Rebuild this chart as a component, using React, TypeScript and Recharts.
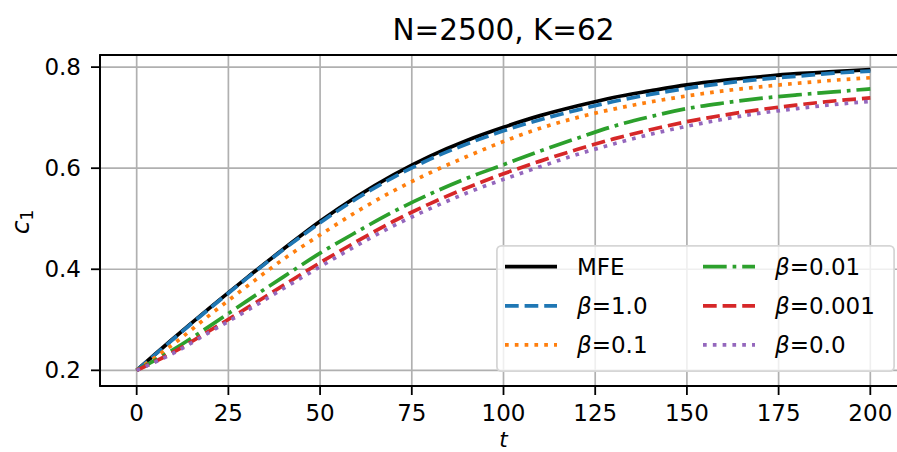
import React from "react";
import { LineChart, Line, XAxis, YAxis, CartesianGrid, ReferenceArea, Legend } from "recharts";

const tValues = [0, 10, 20, 30, 40, 50, 60, 70, 80, 90, 100, 110, 120, 130, 140, 150, 160, 170, 180, 190, 200];
const mfe = [0.200, 0.263, 0.324, 0.383, 0.440, 0.495, 0.544, 0.587, 0.624, 0.655, 0.681, 0.704, 0.723, 0.740, 0.753, 0.765, 0.774, 0.781, 0.787, 0.791, 0.795];
const beta1 = [0.200, 0.262, 0.323, 0.382, 0.439, 0.492, 0.540, 0.582, 0.618, 0.648, 0.674, 0.696, 0.715, 0.732, 0.746, 0.758, 0.768, 0.776, 0.782, 0.788, 0.792];
const beta01 = [0.200, 0.252, 0.310, 0.366, 0.420, 0.468, 0.514, 0.555, 0.591, 0.623, 0.653, 0.679, 0.700, 0.717, 0.731, 0.743, 0.753, 0.761, 0.768, 0.774, 0.779];
const beta001 = [0.200, 0.241, 0.288, 0.337, 0.385, 0.432, 0.474, 0.514, 0.549, 0.580, 0.607, 0.634, 0.659, 0.683, 0.702, 0.718, 0.729, 0.738, 0.745, 0.751, 0.757];
const beta0001 = [0.200, 0.236, 0.279, 0.323, 0.368, 0.413, 0.455, 0.495, 0.530, 0.561, 0.589, 0.614, 0.637, 0.658, 0.676, 0.692, 0.705, 0.716, 0.725, 0.733, 0.739];
const beta0 = [0.200, 0.234, 0.276, 0.318, 0.362, 0.405, 0.447, 0.486, 0.520, 0.551, 0.578, 0.603, 0.627, 0.648, 0.667, 0.683, 0.697, 0.709, 0.718, 0.726, 0.732];

const xTicks = [0, 25, 50, 75, 100, 125, 150, 175, 200];
const yTicks = [0.2, 0.4, 0.6, 0.8];

const title = "N=2500, K=62";

const LW = 3.7;
const DASHED = `${3.7 * LW} ${1.6 * LW}`;
const DOTTED = `${1 * LW} ${1.65 * LW}`;
const DASHDOT = `${6.4 * LW} ${1.6 * LW} ${1 * LW} ${1.6 * LW}`;

const series = [
  { key: "mfe", label: "MFE", math: false, color: "#000000", dash: undefined as string | undefined, values: mfe },
  { key: "b1", label: "=1.0", math: true, color: "#1f77b4", dash: DASHED, values: beta1 },
  { key: "b01", label: "=0.1", math: true, color: "#ff7f0e", dash: DOTTED, values: beta01 },
  { key: "b001", label: "=0.01", math: true, color: "#2ca02c", dash: DASHDOT, values: beta001 },
  { key: "b0001", label: "=0.001", math: true, color: "#d62728", dash: DASHED, values: beta0001 },
  { key: "b0", label: "=0.0", math: true, color: "#9467bd", dash: DOTTED, values: beta0 },
];

const data = tValues.map((t, i) => {
  const row: Record<string, number> = { t };
  series.forEach((s) => {
    row[s.key] = s.values[i];
  });
  return row;
});

const FONT = "DejaVu Sans, Verdana, sans-serif";

const LegendBox = () => {
  const rows = [21.7, 60.8, 99.9];
  const cols = [
    { hx: 9, tx: 81 },
    { hx: 207, tx: 279 },
  ];
  return (
    <svg width={399} height={127} style={{ display: "block", overflow: "visible" }}>
      <rect x={0.9} y={0.9} width={397.2} height={125.2} rx={4.5} ry={4.5} fill="rgba(255,255,255,0.8)" stroke="#d6d6d6" strokeWidth={1.8} />
      {series.map((s, i) => {
        const c = cols[Math.floor(i / 3)];
        const y = rows[i % 3];
        return (
          <g key={s.key}>
            <line x1={c.hx} x2={c.hx + 52} y1={y} y2={y} stroke={s.color} strokeWidth={LW} strokeDasharray={s.dash} />
            <text x={c.tx} y={y + 8.3} fontFamily={FONT} fontSize={23} fill="#000">
              {s.math ? (
                <>
                  <tspan fontStyle="italic">β</tspan>
                  <tspan>{s.label}</tspan>
                </>
              ) : (
                s.label
              )}
            </text>
          </g>
        );
      })}
    </svg>
  );
};

export default function App() {
  return (
    <div style={{ position: "absolute", left: 0, top: 0, width: 897, height: 452, overflow: "hidden", background: "#fff" }}>
      <LineChart width={920} height={452} data={data} margin={{ top: 55, right: 13, bottom: 0, left: 0 }}>
        <CartesianGrid stroke="#b0b0b0" strokeWidth={1.7} horizontalValues={yTicks} verticalValues={xTicks} />
        <XAxis
          dataKey="t"
          type="number"
          domain={[-10, 210]}
          ticks={xTicks}
          allowDataOverflow
          height={66}
          tickSize={9}
          tickMargin={10}
          stroke="#000"
          tickLine={{ stroke: "#000", strokeWidth: 1.8 }}
          axisLine={{ stroke: "#000", strokeWidth: 1.8 }}
          tick={{ fill: "#000", fontSize: 23, fontFamily: FONT }}
        />
        <YAxis
          type="number"
          domain={[0.169, 0.824]}
          ticks={yTicks}
          allowDataOverflow
          width={100}
          tickSize={9}
          tickMargin={10}
          stroke="#000"
          tickLine={{ stroke: "#000", strokeWidth: 1.8 }}
          axisLine={{ stroke: "#000", strokeWidth: 1.8 }}
          tick={{ fill: "#000", fontSize: 23, fontFamily: FONT }}
          tickFormatter={(v: number) => v.toFixed(1)}
        />
        {series.map((s) => (
          <Line
            key={s.key}
            dataKey={s.key}
            type="monotone"
            stroke={s.color}
            strokeWidth={LW}
            strokeDasharray={s.dash}
            dot={false}
            activeDot={false}
            isAnimationActive={false}
          />
        ))}
        <ReferenceArea x1={-10} x2={210} y1={0.169} y2={0.824} fill="none" fillOpacity={0} stroke="#000" strokeWidth={1.8} ifOverflow="visible" />
        <Legend
          layout="horizontal"
          align="center"
          verticalAlign="middle"
          wrapperStyle={{ left: 496, top: 245, width: 399, height: 127 }}
          content={() => <LegendBox />}
        />
      </LineChart>
      <svg width={897} height={452} style={{ position: "absolute", left: 0, top: 0, pointerEvents: "none" }}>
        <text x={503.5} y={40} textAnchor="middle" fontFamily={FONT} fontSize={29.5} fill="#000">
          {title}
        </text>
        <text x={503.5} y={446.8} textAnchor="middle" fontFamily={FONT} fontSize={21.5} fontStyle="italic" fill="#000">
          t
        </text>
        <text transform="translate(28.5,222) rotate(-90)" textAnchor="middle" fontFamily={FONT} fontSize={25} fill="#000">
          <tspan fontStyle="italic">c</tspan>
          <tspan fontSize={17} dy={4}>1</tspan>
        </text>
      </svg>
    </div>
  );
}
